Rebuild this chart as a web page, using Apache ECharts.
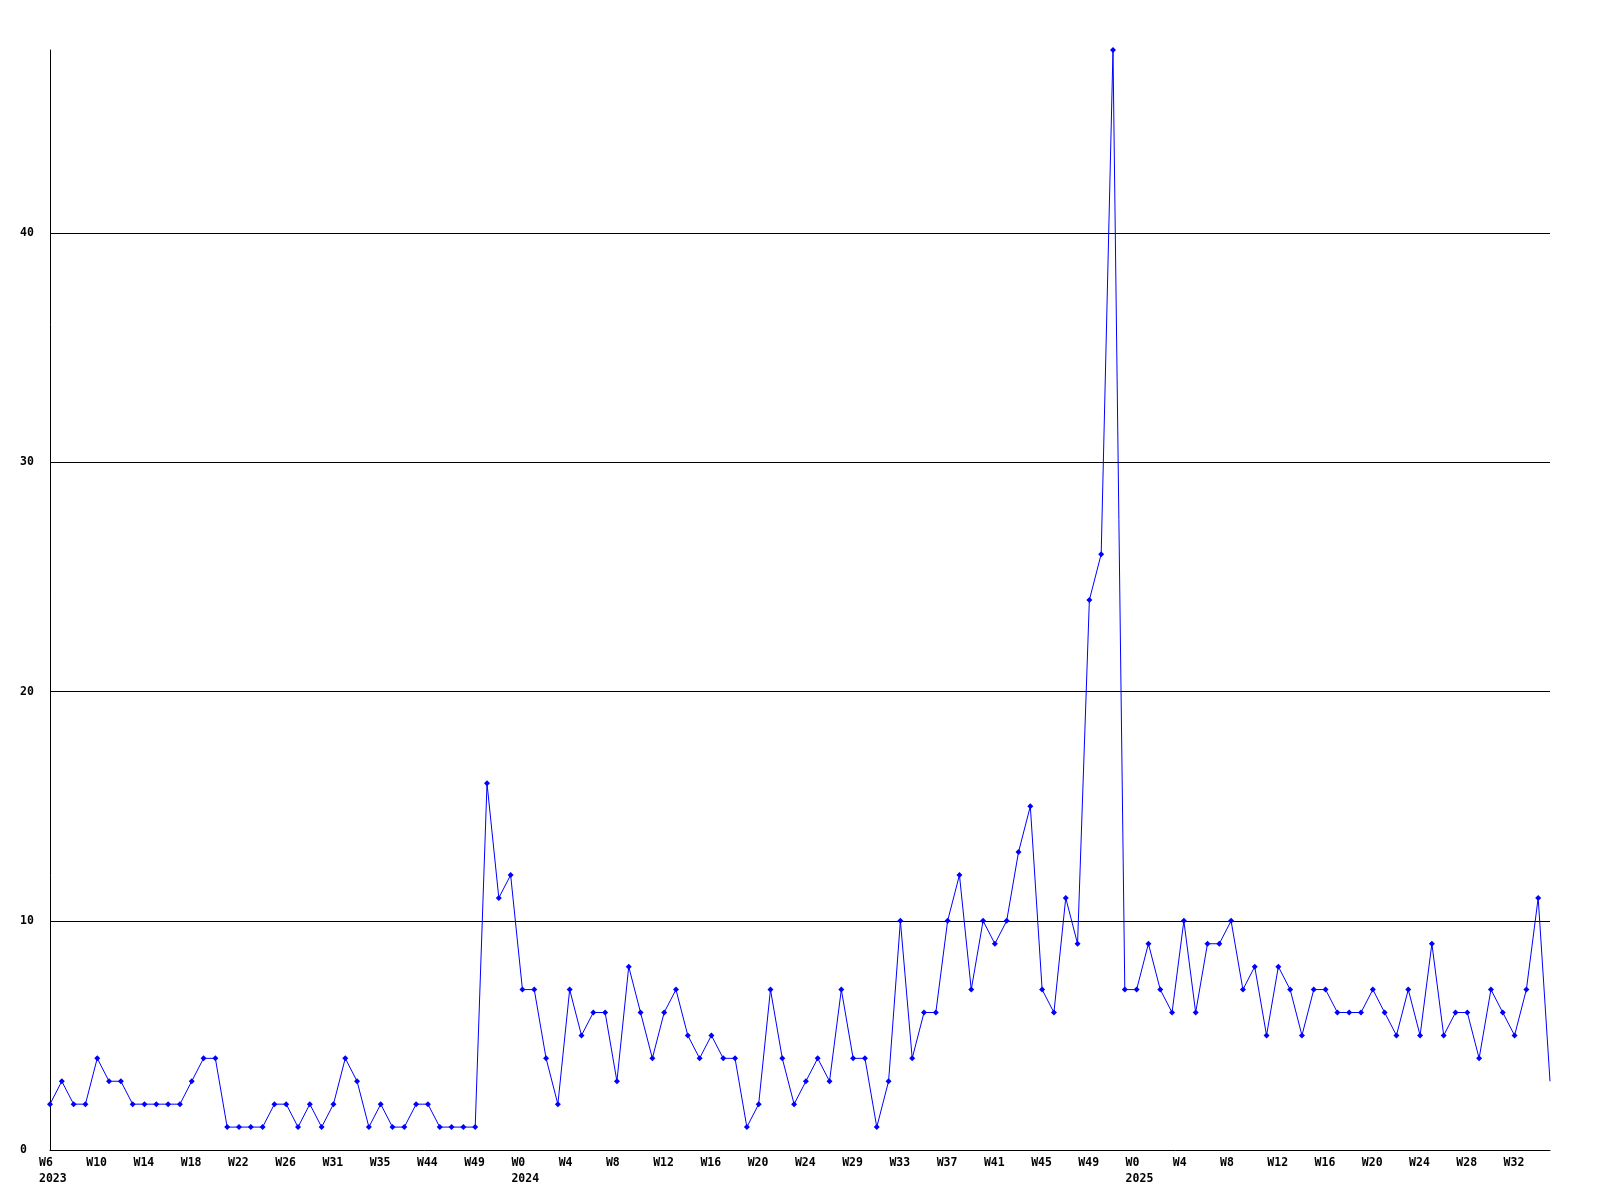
<!DOCTYPE html>
<html>
<head>
<meta charset="utf-8">
<script src="https://cdn.jsdelivr.net/npm/echarts@6/dist/echarts.min.js"></script>
<style>
  html, body { margin: 0; padding: 0; background: #ffffff; }
  #chart { width: 1600px; height: 1200px; }
</style>
</head>
<body>
<div id="chart"></div>
<script>
// Week numbers of each data point, per year (some weeks are absent in the data)
const weeks2023 = [6,7,8,9,10,11,12,13,14,15,16,17,18,19,20,21,22,23,24,25,26,
                   27,28,29,31,32,33,34,35,38,40,42,44,45,46,47,49,50,51,52];
const weeks2024 = [0,1,2,3,4,5,6,7,8,9,10,11,12,13,14,15,16,17,18,19,20,21,22,23,24,
                   25,26,27,29,30,31,32,33,34,35,36,37,38,39,40,41,42,43,44,45,46,47,48,49,
                   50,51,52];
const weeks2025 = [0,1,2,3,4,5,6,7,8,9,10,11,12,13,14,15,16,17,18,19,20,21,22,23,24,
                   25,26,27,28,29,30,31,32,33,34,35];
const years = ['2023', '2024', '2025'];

// Weekly counts
const values = [
  2,3,2,2,4,3,3,2,2,2,2,2,3,4,4,1,1,1,1,2,2,1,2,1,2,4,3,1,2,1,1,2,2,1,1,1,1,16,11,12,7,7,
  4,2,7,5,6,6,3,8,6,4,6,7,5,4,5,4,4,1,2,7,4,2,3,4,3,7,
  4,4,1,3,10,4,6,6,10,12,7,10,9,10,13,15,7,6,11,9,
  24,26,48,7,7,
  9,7,6,10,6,9,9,10,7,8,5,8,7,5,7,7,6,6,6,7,6,5,7,5,9,5,6,
  6,4,7,6,5,7,11,3
];

const yTicks = [0, 10, 20, 30, 40];

// Build categories and year-start markers
const categories = [];
const yearStart = [];
[weeks2023, weeks2024, weeks2025].forEach(function (ws, yi) {
  ws.forEach(function (w, i) {
    categories.push('W' + w);
    yearStart.push(i === 0 ? years[yi] : '');
  });
});

const seriesData = values.map(function (v, i) {
  if (i === values.length - 1) {
    return { value: v, symbol: 'none' };
  }
  return v;
});

const labelFont = {
  fontFamily: 'DejaVu Sans Mono',
  fontWeight: 'bold',
  fontSize: 11.5,
  color: '#000000'
};

const chart = echarts.init(document.getElementById('chart'), null, { renderer: 'canvas' });
chart.setOption({
  backgroundColor: '#ffffff',
  animation: false,
  grid: { left: 50, right: 50, top: 50, bottom: 50, containLabel: false },
  xAxis: {
    type: 'category',
    data: categories,
    boundaryGap: false,
    axisLine: { show: true, lineStyle: { color: '#000000', width: 1 } },
    axisTick: { show: false },
    splitLine: { show: false },
    axisLabel: Object.assign({}, labelFont, {
      interval: 3,
      margin: 5,
      align: 'left',
      lineHeight: 16,
      padding: [0, 0, 0, -11],
      hideOverlap: false,
      formatter: function (value, index) {
        return yearStart[index] ? value + '\n' + yearStart[index] : value;
      }
    })
  },
  yAxis: {
    type: 'value',
    min: 0,
    max: 48,
    interval: 10,
    axisLine: { show: true, lineStyle: { color: '#000000', width: 1 } },
    axisTick: { show: false },
    splitLine: {
      show: true,
      showMinLine: false,
      showMaxLine: false,
      lineStyle: { color: '#000000', width: 1 }
    },
    axisLabel: Object.assign({}, labelFont, {
      margin: 30,
      align: 'left',
      showMaxLabel: false,
      formatter: function (v) {
        return yTicks.indexOf(v) >= 0 ? String(v) : '';
      }
    })
  },
  series: [{
    type: 'line',
    data: seriesData,
    clip: false,
    showAllSymbol: true,
    symbol: 'diamond',
    symbolSize: 6,
    itemStyle: { color: '#0000ff' },
    lineStyle: { color: '#0000ff', width: 1 },
    emphasis: { disabled: true }
  }]
});
</script>
</body>
</html>
